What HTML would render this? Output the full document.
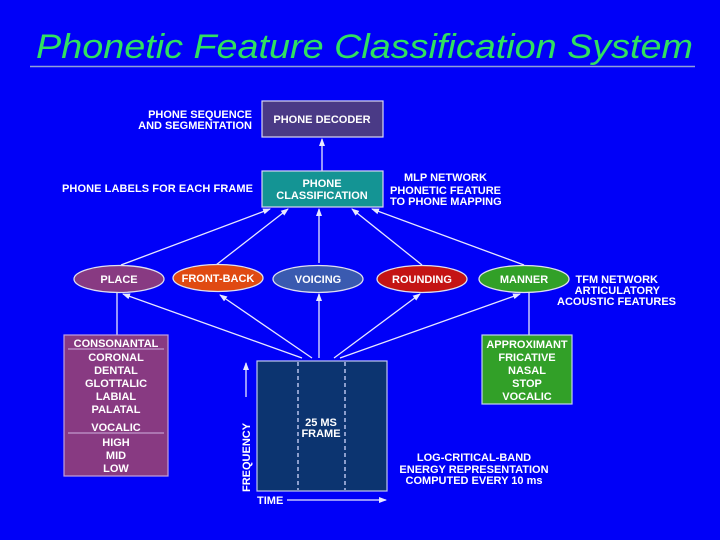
<!DOCTYPE html>
<html><head><meta charset="utf-8"><style>
html,body{margin:0;padding:0;background:#0000f8;}
svg{display:block}
text{font-family:"Liberation Sans",sans-serif;font-weight:bold;fill:#fff;font-size:11px}
</style></head><body>
<svg width="720" height="540" viewBox="0 0 720 540" xmlns="http://www.w3.org/2000/svg">
<defs><marker id="a" markerWidth="8" markerHeight="8" refX="7" refY="4" orient="auto" markerUnits="userSpaceOnUse"><path d="M0,1 L8,4 L0,7 z" fill="#e8e8ff"/></marker></defs>
<rect width="720" height="540" fill="#0000f8"/>
<text x="36" y="58" style="font-style:italic;font-weight:normal;font-size:34px;fill:#30e060" textLength="657" lengthAdjust="spacingAndGlyphs">Phonetic Feature Classification System</text>
<line x1="30" y1="66.5" x2="695" y2="66.5" stroke="#8fa0d8" stroke-width="1.5"/>

<g stroke="#e8e8ff" stroke-width="1.3" fill="none">
<line x1="322" y1="171" x2="322" y2="139" marker-end="url(#a)"/>
<line x1="121" y1="265" x2="270" y2="209" marker-end="url(#a)"/>
<line x1="216" y1="265" x2="288" y2="209" marker-end="url(#a)"/>
<line x1="319" y1="263" x2="319" y2="209" marker-end="url(#a)"/>
<line x1="422" y1="265" x2="352" y2="209" marker-end="url(#a)"/>
<line x1="524" y1="265" x2="372" y2="209" marker-end="url(#a)"/>
<line x1="302" y1="358" x2="123" y2="294" marker-end="url(#a)"/>
<line x1="312" y1="358" x2="220" y2="295" marker-end="url(#a)"/>
<line x1="319" y1="358" x2="319" y2="294" marker-end="url(#a)"/>
<line x1="334" y1="358" x2="420" y2="294" marker-end="url(#a)"/>
<line x1="340" y1="358" x2="520" y2="294" marker-end="url(#a)"/>
<line x1="117" y1="292" x2="117" y2="335"/>
<line x1="529" y1="292" x2="529" y2="335"/>
<line x1="246" y1="397" x2="246" y2="363" marker-end="url(#a)"/>
<line x1="287" y1="500" x2="386" y2="500" marker-end="url(#a)"/>
</g>

<rect x="262" y="101" width="121" height="36" fill="#4a3a86" stroke="#d8d8f0" stroke-width="1.2"/>
<text x="322" y="123" text-anchor="middle">PHONE DECODER</text>
<rect x="262" y="171" width="121" height="36" fill="#149494" stroke="#d8d8f0" stroke-width="1.2"/>
<text x="322" y="187" text-anchor="middle">PHONE</text>
<text x="322" y="199" text-anchor="middle">CLASSIFICATION</text>

<text x="252" y="118" text-anchor="end">PHONE SEQUENCE</text>
<text x="252" y="129" text-anchor="end">AND SEGMENTATION</text>
<text x="253" y="192" text-anchor="end" textLength="191" lengthAdjust="spacing">PHONE LABELS FOR EACH FRAME</text>
<text x="404" y="181">MLP NETWORK</text>
<text x="390" y="194">PHONETIC FEATURE</text>
<text x="390" y="205">TO PHONE MAPPING</text>
<text x="658" y="283" text-anchor="end">TFM NETWORK</text>
<text x="660" y="294" text-anchor="end">ARTICULATORY</text>
<text x="676" y="305" text-anchor="end">ACOUSTIC FEATURES</text>

<g stroke="#e0e0f0" stroke-width="1.3">
<ellipse cx="119" cy="279" rx="45" ry="13.5" fill="#883a82"/>
<ellipse cx="218" cy="278" rx="45" ry="13.5" fill="#e04a12"/>
<ellipse cx="318" cy="279" rx="45" ry="13.5" fill="#3a5ab0"/>
<ellipse cx="422" cy="279" rx="45" ry="13.5" fill="#c41414"/>
<ellipse cx="524" cy="279" rx="45" ry="13.5" fill="#32a028"/>
</g>
<text x="119" y="283" text-anchor="middle">PLACE</text>
<text x="218" y="282" text-anchor="middle">FRONT-BACK</text>
<text x="318" y="283" text-anchor="middle">VOICING</text>
<text x="422" y="283" text-anchor="middle">ROUNDING</text>
<text x="524" y="283" text-anchor="middle">MANNER</text>

<rect x="64" y="335" width="104" height="141" fill="#883a82" stroke="#c0a0e0" stroke-width="1.2"/>
<line x1="68" y1="349" x2="164" y2="349" stroke="#d0b0e0"/>
<line x1="68" y1="433" x2="164" y2="433" stroke="#d0b0e0"/>
<g text-anchor="middle">
<text x="116" y="347">CONSONANTAL</text>
<text x="116" y="361">CORONAL</text>
<text x="116" y="374">DENTAL</text>
<text x="116" y="387">GLOTTALIC</text>
<text x="116" y="400">LABIAL</text>
<text x="116" y="413">PALATAL</text>
<text x="116" y="431">VOCALIC</text>
<text x="116" y="446">HIGH</text>
<text x="116" y="459">MID</text>
<text x="116" y="472">LOW</text>
</g>

<rect x="482" y="335" width="90" height="69" fill="#32a028" stroke="#c0d0f0" stroke-width="1.2"/>
<g text-anchor="middle">
<text x="527" y="348">APPROXIMANT</text>
<text x="527" y="361">FRICATIVE</text>
<text x="527" y="374">NASAL</text>
<text x="527" y="387">STOP</text>
<text x="527" y="400">VOCALIC</text>
</g>

<rect x="257" y="361" width="130" height="130" fill="#0c3470" stroke="#c0c8f0" stroke-width="1.2"/>
<line x1="298" y1="362" x2="298" y2="490" stroke="#d0d8ff" stroke-width="1.3" stroke-dasharray="4,3"/>
<line x1="345" y1="362" x2="345" y2="490" stroke="#d0d8ff" stroke-width="1.3" stroke-dasharray="4,3"/>
<text x="321" y="426" text-anchor="middle">25 MS</text>
<text x="321" y="437" text-anchor="middle">FRAME</text>
<text x="0" y="0" transform="translate(250,492) rotate(-90)">FREQUENCY</text>
<text x="257" y="504">TIME</text>
<g text-anchor="middle">
<text x="474" y="461">LOG-CRITICAL-BAND</text>
<text x="474" y="473">ENERGY REPRESENTATION</text>
<text x="474" y="484">COMPUTED EVERY 10 ms</text>
</g>
</svg>
</body></html>
